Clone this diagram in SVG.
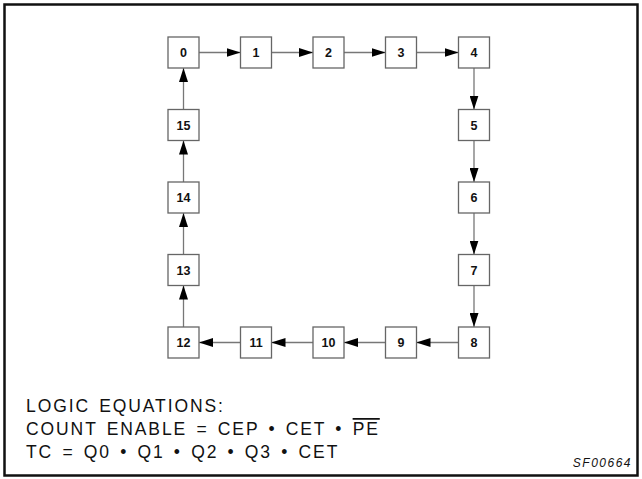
<svg xmlns="http://www.w3.org/2000/svg" width="642" height="479" viewBox="0 0 642 479">
<style>
.box{fill:#fff;stroke:#666;stroke-width:1.3}
.num{font-family:"Liberation Sans",Arial,sans-serif;font-size:12.5px;font-weight:bold;fill:#111;text-anchor:middle}
.conn{stroke:#777;stroke-width:1.3;fill:none}
.eq{font-family:"Liberation Sans",Arial,sans-serif;font-size:17.5px;fill:#111;letter-spacing:1.9px;word-spacing:2.5px}
.tag{font-family:"Liberation Sans",Arial,sans-serif;font-size:12px;font-style:italic;fill:#111;letter-spacing:1.5px;text-anchor:end}
</style>
<defs>
<marker id="ah" markerUnits="userSpaceOnUse" markerWidth="14" markerHeight="9" refX="14" refY="4.5" orient="auto">
<path d="M0,0 L14,4.5 L0,9 Z" fill="#000"/>
</marker>
</defs>
<rect x="4.5" y="4.5" width="633" height="471" fill="#fff" stroke="#111" stroke-width="2.5"/>
<g id="connectors">
<line class="conn" x1="199" y1="52.5" x2="240.5" y2="52.5" marker-end="url(#ah)"/>
<line class="conn" x1="271.5" y1="52.5" x2="313" y2="52.5" marker-end="url(#ah)"/>
<line class="conn" x1="344" y1="52.5" x2="385.5" y2="52.5" marker-end="url(#ah)"/>
<line class="conn" x1="416.5" y1="52.5" x2="458.5" y2="52.5" marker-end="url(#ah)"/>
<line class="conn" x1="474" y1="68" x2="474" y2="109.5" marker-end="url(#ah)"/>
<line class="conn" x1="474" y1="140.5" x2="474" y2="182" marker-end="url(#ah)"/>
<line class="conn" x1="474" y1="213" x2="474" y2="254.5" marker-end="url(#ah)"/>
<line class="conn" x1="474" y1="285.5" x2="474" y2="327" marker-end="url(#ah)"/>
<line class="conn" x1="458.5" y1="342.5" x2="416.5" y2="342.5" marker-end="url(#ah)"/>
<line class="conn" x1="385.5" y1="342.5" x2="344" y2="342.5" marker-end="url(#ah)"/>
<line class="conn" x1="313" y1="342.5" x2="271.5" y2="342.5" marker-end="url(#ah)"/>
<line class="conn" x1="240.5" y1="342.5" x2="199" y2="342.5" marker-end="url(#ah)"/>
<line class="conn" x1="183.5" y1="327" x2="183.5" y2="285.5" marker-end="url(#ah)"/>
<line class="conn" x1="183.5" y1="254.5" x2="183.5" y2="213" marker-end="url(#ah)"/>
<line class="conn" x1="183.5" y1="182" x2="183.5" y2="140.5" marker-end="url(#ah)"/>
<line class="conn" x1="183.5" y1="109.5" x2="183.5" y2="68" marker-end="url(#ah)"/>
</g>
<g id="n0"><rect class="box" x="168" y="37" width="31" height="31"/><text class="num" x="183.5" y="57">0</text></g>
<g id="n1"><rect class="box" x="240.5" y="37" width="31" height="31"/><text class="num" x="256" y="57">1</text></g>
<g id="n2"><rect class="box" x="313" y="37" width="31" height="31"/><text class="num" x="328.5" y="57">2</text></g>
<g id="n3"><rect class="box" x="385.5" y="37" width="31" height="31"/><text class="num" x="401" y="57">3</text></g>
<g id="n4"><rect class="box" x="458.5" y="37" width="31" height="31"/><text class="num" x="474" y="57">4</text></g>
<g id="n5"><rect class="box" x="458.5" y="109.5" width="31" height="31"/><text class="num" x="474" y="129.5">5</text></g>
<g id="n6"><rect class="box" x="458.5" y="182" width="31" height="31"/><text class="num" x="474" y="202">6</text></g>
<g id="n7"><rect class="box" x="458.5" y="254.5" width="31" height="31"/><text class="num" x="474" y="274.5">7</text></g>
<g id="n8"><rect class="box" x="458.5" y="327" width="31" height="31"/><text class="num" x="474" y="347">8</text></g>
<g id="n9"><rect class="box" x="385.5" y="327" width="31" height="31"/><text class="num" x="401" y="347">9</text></g>
<g id="n10"><rect class="box" x="313" y="327" width="31" height="31"/><text class="num" x="328.5" y="347">10</text></g>
<g id="n11"><rect class="box" x="240.5" y="327" width="31" height="31"/><text class="num" x="256" y="347">11</text></g>
<g id="n12"><rect class="box" x="168" y="327" width="31" height="31"/><text class="num" x="183.5" y="347">12</text></g>
<g id="n13"><rect class="box" x="168" y="254.5" width="31" height="31"/><text class="num" x="183.5" y="274.5">13</text></g>
<g id="n14"><rect class="box" x="168" y="182" width="31" height="31"/><text class="num" x="183.5" y="202">14</text></g>
<g id="n15"><rect class="box" x="168" y="109.5" width="31" height="31"/><text class="num" x="183.5" y="129.5">15</text></g>
<g id="equations">
<text class="eq" x="26" y="412">LOGIC EQUATIONS:</text>
<text class="eq" x="26" y="435">COUNT ENABLE = CEP • CET • <tspan text-decoration="overline">PE</tspan></text>
<text class="eq" x="26" y="458">TC = Q0 • Q1 • Q2 • Q3 • CET</text>
</g>
<text class="tag" x="632" y="467">SF00664</text>
</svg>
